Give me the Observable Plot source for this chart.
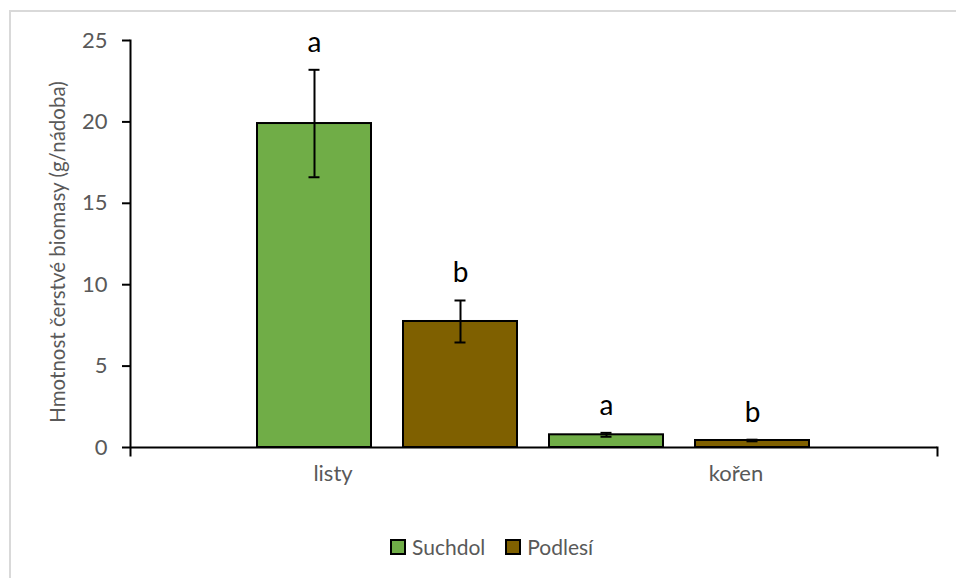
<!DOCTYPE html>
<html><head><meta charset="utf-8">
<script src="https://cdn.jsdelivr.net/npm/d3@7"></script>
<script src="https://cdn.jsdelivr.net/npm/@observablehq/plot@0.6"></script>
<style>
body{margin:0;background:#fff;}
#wrap{position:relative;width:956px;height:578px;overflow:hidden;background:#fff;font-family:Lato,sans-serif;}
#border{position:absolute;left:9px;top:10px;right:-5px;bottom:-5px;border-top:2px solid #d9d9d9;border-left:2px solid #d9d9d9;}
.layer{position:absolute;left:0;top:0;}
#legend{position:absolute;top:536px;left:390px;display:flex;align-items:center;font-size:21px;color:#595959;line-height:22px;}
.sw{width:12px;height:12px;border:2px solid #000;display:inline-block;margin-right:6px;}
.item{display:flex;align-items:center;margin-right:20px;}
</style></head>
<body>
<div id="wrap"><div id="border"></div></div>
<script>
// ---- data ----
const categories = ["listy", "kořen"];
const series = ["Suchdol", "Podlesí"];
const colors = ["#70AD47", "#7F6000"];
const meanSuchdol = [19.9, 0.78];
const meanPodlesi = [7.74, 0.43];
const errSuchdol = [3.3, 0.12];
const errPodlesi = [1.29, 0.05];
const letterSuchdol = ["a", "a"];
const letterPodlesi = ["b", "b"];
const yTicks = [0, 5, 10, 15, 20, 25];
const yMax = 25;
const yTitle = "Hmotnost čerstvé biomasy (g/nádoba)";

// ---- build rows ----
const means = [meanSuchdol, meanPodlesi];
const errs = [errSuchdol, errPodlesi];
const letters = [letterSuchdol, letterPodlesi];
const rows = [];
categories.forEach((c, i) => series.forEach((s, j) => {
  const m = means[j][i], e = errs[j][i];
  rows.push({key: c + "|" + s, cat: c, series: s, mean: m, lo: m - e, hi: m + e, letter: letters[j][i]});
}));
const keys = rows.map(d => d.key);

// ---- layout ----
const W = 956, H = 500, ML = 130, MR = 19, MT = 40, MB = 53;
const font = "Lato, sans-serif";

const axes = Plot.plot({
  width: W, height: H, marginLeft: ML, marginRight: MR, marginTop: MT, marginBottom: MB,
  style: {fontFamily: font, fontSize: "20px", background: "transparent", color: "#595959", overflow: "visible"},
  x: {type: "band", domain: categories, paddingInner: 0, paddingOuter: 0},
  y: {domain: [0, yMax]},
  marks: [
    Plot.axisY(yTicks, {tickSize: 8, tickPadding: 15, stroke: "black", strokeWidth: 2, fill: "#595959", fontSize: 22,
      label: null}),
    Plot.text([yTitle], {frameAnchor: "left", textAnchor: "middle", rotate: -90, dx: -72, dy: 8, fill: "#595959", fontSize: 20.5, fontFamily: font}),
    Plot.axisX({tickSize: 0, tickPadding: 18, fill: "#595959", fontSize: 22, label: null}),
    Plot.ruleY([0], {stroke: "black", strokeWidth: 2}),
    Plot.frame({anchor: "left", stroke: "black", strokeWidth: 2, insetBottom: -8}),
    Plot.frame({anchor: "right", stroke: "black", strokeWidth: 2, insetBottom: -8, insetTop: H - MT - MB})
  ]
});

const bars = Plot.plot({
  width: W, height: H, marginLeft: ML, marginRight: MR, marginTop: MT, marginBottom: MB,
  style: {fontFamily: font, background: "transparent", overflow: "visible"},
  x: {type: "band", domain: keys, paddingInner: 0.216, paddingOuter: 0.858, axis: null},
  y: {domain: [0, yMax], axis: null},
  color: {domain: series, range: colors},
  marks: [
    Plot.barY(rows, {x: "key", y: "mean", fill: "series", stroke: "black", strokeWidth: 2}),
    Plot.ruleX(rows, {x: "key", y1: "lo", y2: "hi", stroke: "black", strokeWidth: 2}),
    Plot.tickY(rows, {x: "key", y: "lo", stroke: "black", strokeWidth: 2, insetLeft: 51.5, insetRight: 51.5}),
    Plot.tickY(rows, {x: "key", y: "hi", stroke: "black", strokeWidth: 2, insetLeft: 51.5, insetRight: 51.5}),
    Plot.text(rows, {x: "key", y: "hi", text: "letter", dy: -27, fontSize: 28, fill: "black", fontFamily: font})
  ]
});

const wrap = document.getElementById("wrap");
axes.classList.add("layer");
bars.classList.add("layer");
wrap.appendChild(axes);
wrap.appendChild(bars);

// legend
const legend = document.createElement("div");
legend.id = "legend";
series.forEach((s, j) => {
  const it = document.createElement("div");
  it.className = "item";
  const sw = document.createElement("span");
  sw.className = "sw";
  sw.style.background = colors[j];
  const tx = document.createElement("span");
  tx.textContent = s;
  it.appendChild(sw); it.appendChild(tx);
  legend.appendChild(it);
});
wrap.appendChild(legend);
</script>
</body></html>
